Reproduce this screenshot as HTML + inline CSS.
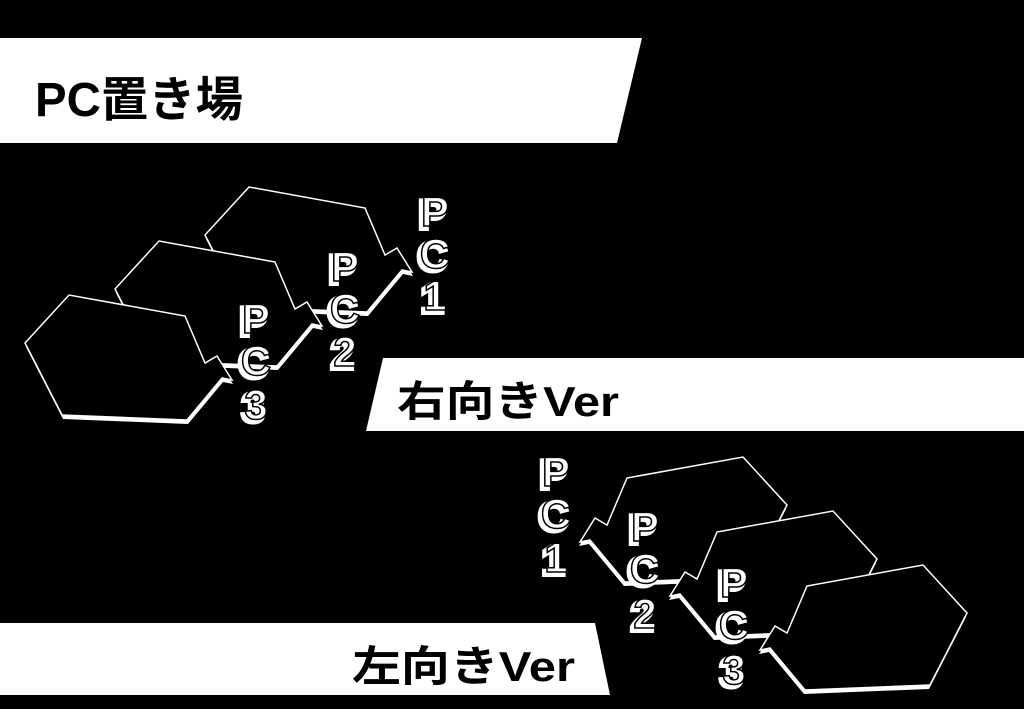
<!DOCTYPE html>
<html><head><meta charset="utf-8"><style>
html,body{margin:0;padding:0;background:#000;}
svg{display:block}
.t{font-family:"Liberation Sans","Noto Sans CJK JP",sans-serif;font-weight:bold;fill:#000}
.pc{font-family:"Liberation Sans",sans-serif;font-weight:900;fill:#fff;stroke:#000;stroke-width:1.5;font-size:42px}
.pcs{font-family:"Liberation Sans",sans-serif;font-weight:900;fill:#fff;stroke:#fff;stroke-width:4;font-size:42px}
</style></head><body>
<svg width="1024" height="709" viewBox="0 0 1024 709" xmlns="http://www.w3.org/2000/svg">
<rect width="1024" height="709" fill="#000"/>
<defs>
<polygon id="hx" points="25,343 69,295 185,316 205,363 217,356 232,380 222,378 187,420 62,415"/>
<g id="hex">
<use href="#hx" transform="translate(1,4)" fill="#fff"/>
<use href="#hx" fill="#000" stroke="#fff" stroke-width="1.5"/>
</g>
</defs>
<polygon points="0,38 642,38 617,143 0,143" fill="#fff"/>
<text class="t" x="35" y="116" font-size="48" textLength="208" lengthAdjust="spacingAndGlyphs">PC置き場</text>
<polygon points="383,358 1024,358 1024,431 366,431" fill="#fff"/>
<text class="t" x="397" y="416" font-size="42" textLength="222" lengthAdjust="spacingAndGlyphs">右向きVer</text>
<polygon points="0,623 595,623 610,695 0,695" fill="#fff"/>
<text class="t" x="352" y="681" font-size="42" textLength="223" lengthAdjust="spacingAndGlyphs">左向きVer</text>

<use href="#hex" transform="translate(180,-108)"/>
<use href="#hex" transform="translate(90,-54)"/>
<use href="#hex"/>
<g transform="translate(992,270) scale(-1,1)">
<use href="#hex" transform="translate(180,-108)"/>
<use href="#hex" transform="translate(90,-54)"/>
<use href="#hex"/>
</g>

<g text-anchor="middle">
<g transform="translate(-3,3)">
<text class="pcs" x="435" y="226">P</text><text class="pcs" x="435" y="268">C</text><text class="pcs" x="435" y="310">1</text>
<text class="pcs" x="345" y="281">P</text><text class="pcs" x="345" y="323">C</text><text class="pcs" x="345" y="366">2</text>
<text class="pcs" x="256" y="333">P</text><text class="pcs" x="256" y="375">C</text><text class="pcs" x="256" y="419">3</text>
<text class="pcs" x="556" y="486">P</text><text class="pcs" x="556" y="528">C</text><text class="pcs" x="556" y="572">1</text>
<text class="pcs" x="645" y="541">P</text><text class="pcs" x="645" y="583">C</text><text class="pcs" x="645" y="628">2</text>
<text class="pcs" x="734" y="597">P</text><text class="pcs" x="734" y="639">C</text><text class="pcs" x="734" y="684">3</text>
</g>
<text class="pc" x="435" y="226">P</text><text class="pc" x="435" y="268">C</text><text class="pc" x="435" y="310">1</text>
<text class="pc" x="345" y="281">P</text><text class="pc" x="345" y="323">C</text><text class="pc" x="345" y="366">2</text>
<text class="pc" x="256" y="333">P</text><text class="pc" x="256" y="375">C</text><text class="pc" x="256" y="419">3</text>
<text class="pc" x="556" y="486">P</text><text class="pc" x="556" y="528">C</text><text class="pc" x="556" y="572">1</text>
<text class="pc" x="645" y="541">P</text><text class="pc" x="645" y="583">C</text><text class="pc" x="645" y="628">2</text>
<text class="pc" x="734" y="597">P</text><text class="pc" x="734" y="639">C</text><text class="pc" x="734" y="684">3</text>
</g>
</svg>
</body></html>
